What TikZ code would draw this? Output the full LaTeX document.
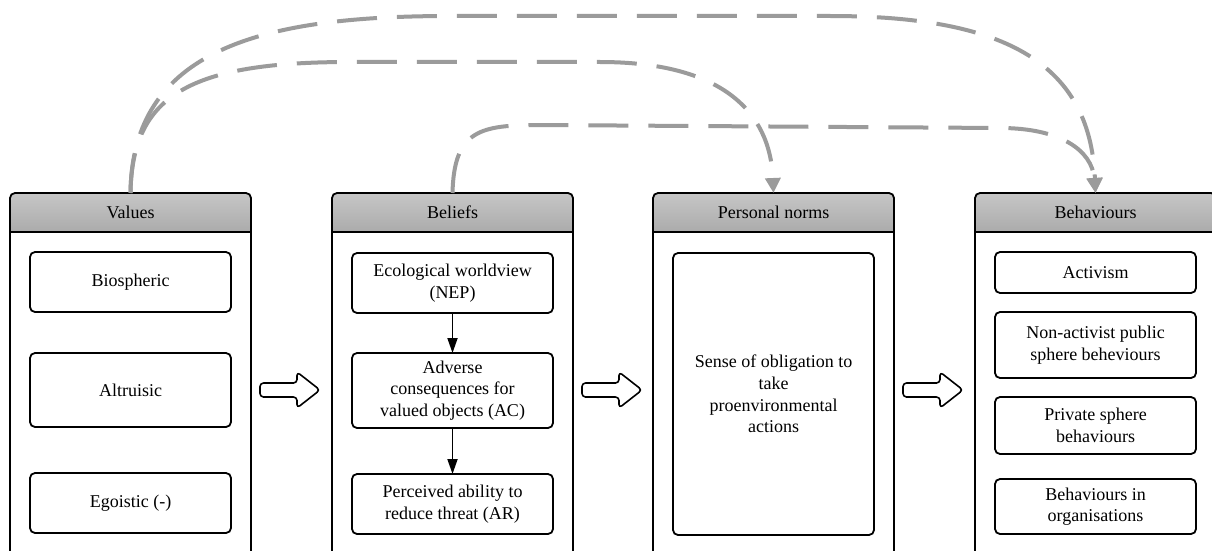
\documentclass[tikz,border=0pt]{standalone}
\usepackage{fontspec}
\setmainfont{Liberation Serif}
\usetikzlibrary{arrows.meta,calc}
\definecolor{hdtop}{HTML}{C6C6C6}
\definecolor{hdbot}{HTML}{ABABAB}
\definecolor{dashgray}{HTML}{9B9B9B}
\newcommand\mkpanel[3]{%
  \node[panelbox, anchor=north west] (#1) at (#2,193) {};
  \begin{scope}
    \clip[rounded corners=5pt] (#1.north west) rectangle (#1.south east);
    \shade[top color=hdtop, bottom color=hdbot] (#1.north west) rectangle ($(#1.north east)+(0,39)$);
  \end{scope}
  \draw[panelline] ($(#1.north west)+(0,39)$) -- ($(#1.north east)+(0,39)$);
  \node[headtext] (#1h) at ($(#1.north)+(0,19.5)$) {#3};
  \draw[panelline, rounded corners=5pt] (#1.north west) rectangle (#1.south east);
}
\newcommand\hollowarrow[1]{%
  \draw[harrow] (#1,383) -- (#1+37,383) -- (#1+37,372) -- (#1+60,390) -- (#1+37,408) -- (#1+37,397) -- (#1,397) -- cycle;
}
\begin{document}
\begin{tikzpicture}[x=1pt,y=-1pt,
  panelline/.style={line width=1.8pt, draw=black},
  panelbox/.style={rectangle, minimum width=241pt, minimum height=400pt, inner sep=0pt, outer sep=0pt},
  headtext/.style={font=\fontsize{18}{21.6}\selectfont, inner sep=0pt},
  ibox/.style={draw=black, line width=1.8pt, rounded corners=5pt, minimum width=201pt, inner sep=2pt, outer sep=0pt, align=center, font=\fontsize{18}{21.6}\selectfont, anchor=north west},
  harrow/.style={draw=black, line width=1.6pt, fill=white, rounded corners=3.5pt, line join=round},
  blk/.style={draw=black, line width=1.8pt, -{Triangle[width=10pt,length=15pt]}},
  dashc/.style={draw=dashgray, line width=4pt, dash pattern=on 40pt off 20pt, -{Triangle[width=15pt,length=15pt]}}
]
\useasboundingbox (0,0) rectangle (1212,551);
\clip (0,0) rectangle (1212,551);
\fill[white] (0,0) rectangle (1212,551);

\mkpanel{vals}{10}{Values}
\mkpanel{bels}{332}{Beliefs}
\mkpanel{pnm}{653}{Personal norms}
\mkpanel{behs}{975}{Behaviours}

% Values
\node[ibox, minimum height=60pt] (bio) at (30,252) {Biospheric};
\node[ibox, minimum height=74pt] (alt) at (30,353) {Altruisic};
\node[ibox, minimum height=60pt] (ego) at (30,473) {Egoistic (-)};

% Beliefs
\node[ibox, minimum height=60pt] (nep) at (352,253) {Ecological worldview\\(NEP)};
\node[ibox, minimum height=75pt] (ac) at (352,353) {Adverse\\consequences for\\valued objects (AC)};
\node[ibox, minimum height=60pt] (ar) at (352,474) {Perceived ability to\\reduce threat (AR)};
\draw[blk] (nep) -- (ac);
\draw[blk] (ac) -- (ar);

% Personal norms
\node[ibox, minimum height=282pt] (obl) at (673,253) {Sense of obligation to\\take\\proenvironmental\\actions};

% Behaviours
\node[ibox, minimum height=41pt] (act) at (995,252) {Activism};
\node[ibox, minimum height=66pt] (nap) at (995,312) {Non-activist public\\sphere beheviours};
\node[ibox, minimum height=57pt] (prv) at (995,397) {Private sphere\\behaviours};
\node[ibox, minimum height=55pt] (org) at (995,479) {Behaviours in\\organisations};

% block arrows
\hollowarrow{260}
\hollowarrow{582}
\hollowarrow{903}

% dashed connectors
\draw[dashc] (vals.north) .. controls (132,50) and (260,16) .. (450,16) -- (830,16) .. controls (1000,16) and (1090,60) .. (behs.north);
\draw[dashc] (vals.north) .. controls (132,95) and (190,62) .. (350,62) -- (600,62) .. controls (720,62) and (770,110) .. (pnm.north);
\draw[dashc] (bels.north) .. controls (454,130) and (480,125) .. (540,125) -- (1000,128) .. controls (1060,128) and (1092,150) .. (behs.north);
\end{tikzpicture}
\end{document}
